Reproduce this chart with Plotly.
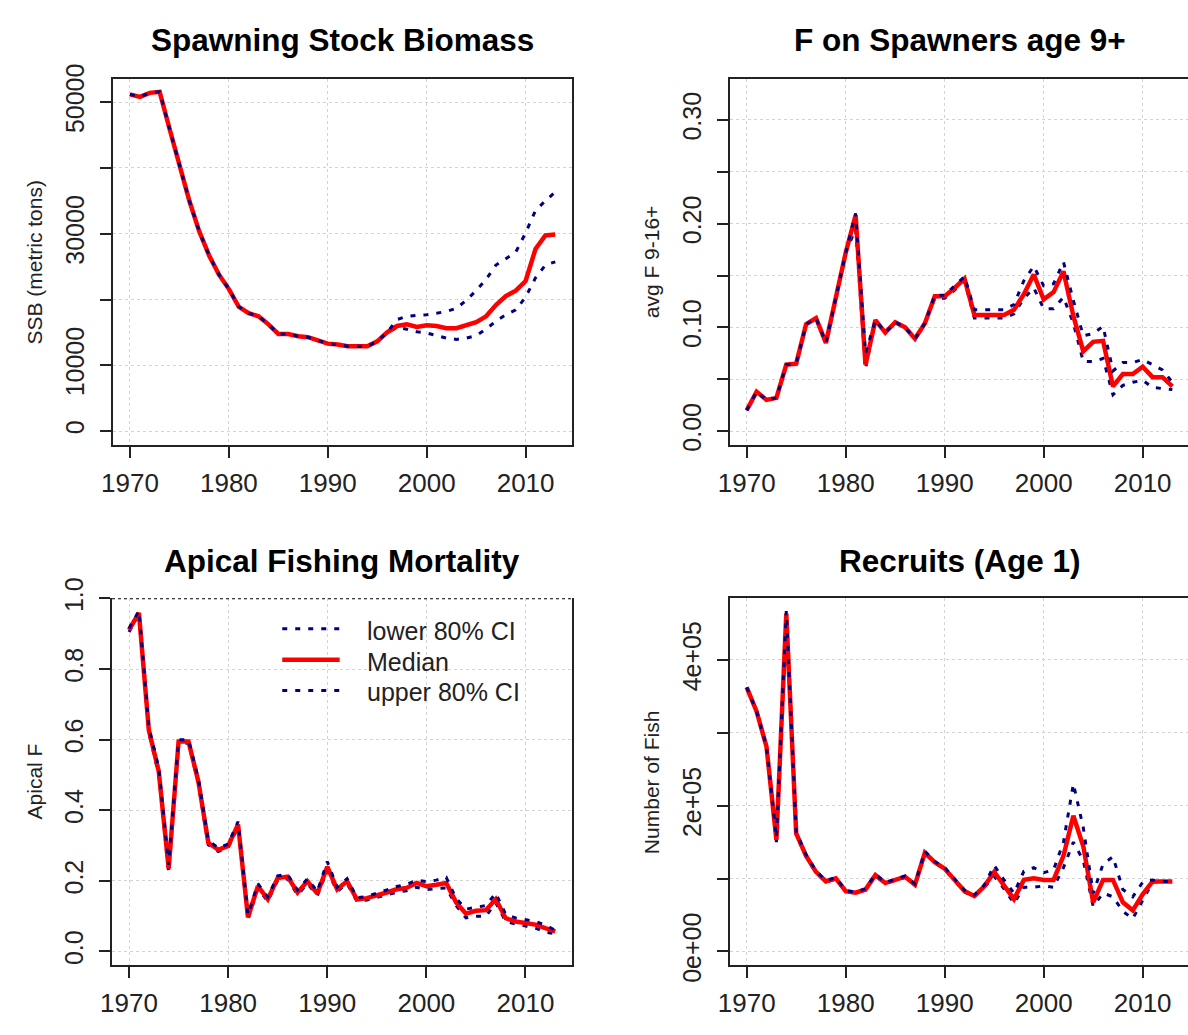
import plotly.graph_objects as go

# ---- data -------------------------------------------------------------
years = list(range(1970, 2014))

ssb_median = [51170, 50800, 51400, 51560, 45950, 40350, 35000, 30360, 26700, 23780,
              21590, 18900, 17930, 17450, 16230, 14770, 14770, 14420, 14280, 13790,
              13300, 13160, 12910, 12910, 12910, 13650, 15010, 15980, 16230, 15840,
              16080, 15980, 15640, 15640, 16080, 16570, 17450, 19150, 20520, 21350,
              22810, 27680, 29730, 29870]
ssb_lower = [51170, 50800, 51400, 51560, 45950, 40350, 35000, 30360, 26700, 23780,
             21590, 18900, 17930, 17450, 16230, 14770, 14770, 14420, 14280, 13790,
             13300, 13160, 12910, 12910, 12910, 13650, 15010, 15740, 15500, 15100,
             14910, 14520, 14130, 13940, 14130, 14520, 15500, 16720, 17690, 18420,
             20370, 23290, 25240, 25730]
ssb_upper = [51170, 50800, 51400, 51560, 45950, 40350, 35000, 30360, 26700, 23780,
             21590, 18900, 17930, 17450, 16230, 14770, 14770, 14420, 14280, 13790,
             13300, 13160, 12910, 12910, 12910, 13650, 15010, 16960, 17450, 17600,
             17690, 17930, 18180, 18660, 19880, 21350, 23050, 25240, 26220, 27190,
             30120, 33530, 34990, 36350]

fsp_median = [0.020, 0.038, 0.030, 0.032, 0.064, 0.065, 0.103, 0.109, 0.085, 0.129,
              0.172, 0.208, 0.064, 0.107, 0.095, 0.105, 0.100, 0.089, 0.104, 0.130,
              0.130, 0.138, 0.147, 0.112, 0.112, 0.112, 0.112, 0.117, 0.132, 0.151,
              0.127, 0.134, 0.154, 0.111, 0.077, 0.086, 0.087, 0.043, 0.055, 0.055,
              0.062, 0.052, 0.052, 0.043]
fsp_lower = [0.020, 0.038, 0.030, 0.032, 0.064, 0.065, 0.103, 0.109, 0.085, 0.129,
             0.172, 0.195, 0.060, 0.107, 0.095, 0.105, 0.100, 0.089, 0.104, 0.128,
             0.128, 0.136, 0.145, 0.109, 0.109, 0.109, 0.109, 0.113, 0.128, 0.138,
             0.118, 0.118, 0.129, 0.104, 0.067, 0.067, 0.070, 0.035, 0.044, 0.047,
             0.049, 0.042, 0.041, 0.040]
fsp_upper = [0.020, 0.038, 0.030, 0.032, 0.064, 0.065, 0.103, 0.109, 0.085, 0.129,
             0.172, 0.210, 0.075, 0.107, 0.095, 0.105, 0.100, 0.089, 0.104, 0.131,
             0.131, 0.140, 0.149, 0.117, 0.117, 0.117, 0.117, 0.122, 0.145, 0.159,
             0.140, 0.142, 0.163, 0.126, 0.092, 0.094, 0.101, 0.058, 0.066, 0.066,
             0.069, 0.064, 0.059, 0.047]

apf_median = [0.911, 0.959, 0.627, 0.510, 0.235, 0.595, 0.595, 0.481, 0.308, 0.288,
              0.299, 0.360, 0.097, 0.185, 0.148, 0.208, 0.212, 0.167, 0.199, 0.164,
              0.240, 0.176, 0.199, 0.147, 0.151, 0.158, 0.167, 0.176, 0.180, 0.194,
              0.185, 0.189, 0.194, 0.139, 0.107, 0.115, 0.117, 0.148, 0.094, 0.085,
              0.080, 0.076, 0.066, 0.057]
apf_lower = [0.905, 0.955, 0.620, 0.500, 0.225, 0.590, 0.590, 0.475, 0.302, 0.283,
             0.294, 0.352, 0.090, 0.178, 0.142, 0.202, 0.206, 0.160, 0.192, 0.158,
             0.230, 0.170, 0.192, 0.142, 0.146, 0.152, 0.160, 0.168, 0.172, 0.182,
             0.175, 0.178, 0.180, 0.130, 0.095, 0.100, 0.100, 0.138, 0.085, 0.078,
             0.072, 0.066, 0.055, 0.050]
apf_upper = [0.915, 0.965, 0.635, 0.520, 0.245, 0.600, 0.600, 0.488, 0.314, 0.293,
             0.304, 0.368, 0.104, 0.192, 0.154, 0.214, 0.218, 0.174, 0.206, 0.170,
             0.255, 0.182, 0.206, 0.152, 0.156, 0.164, 0.174, 0.184, 0.190, 0.202,
             0.198, 0.202, 0.210, 0.150, 0.120, 0.125, 0.130, 0.165, 0.105, 0.095,
             0.090, 0.085, 0.075, 0.060]

rec_median = [362400, 329400, 280900, 153200, 463700, 162000, 131200, 109200, 96000, 100400,
              82800, 80600, 85000, 104800, 93800, 98200, 102600, 91600, 135600, 122400,
              113600, 98200, 82800, 76200, 89400, 109200, 91600, 71800, 98200, 100400,
              98200, 98200, 131200, 186300, 144400, 67400, 98200, 98200, 67400, 56400,
              78400, 96000, 96000, 96000]
rec_lower = [362400, 329400, 280900, 150000, 460000, 160000, 130000, 108000, 95000, 99500,
             82000, 80000, 84000, 103500, 93000, 97500, 101500, 90500, 134000, 121500,
             112500, 97000, 81500, 75000, 88000, 103000, 86000, 66000, 88000, 88000,
             90000, 88000, 115000, 150000, 125000, 62000, 80000, 75000, 55000, 45000,
             70000, 95000, 96000, 96000]
rec_upper = [362400, 329400, 280900, 156000, 467000, 164000, 132500, 110500, 97000, 101500,
             83500, 81500, 86000, 106000, 94500, 99000, 103500, 92500, 137500, 123500,
             115000, 99500, 84000, 77500, 91000, 118000, 98000, 80000, 110000, 115000,
             108000, 112000, 150000, 230000, 170000, 80000, 120000, 130000, 85000, 75000,
             95000, 98000, 96000, 96000]

titles = ["Spawning Stock Biomass", "F on Spawners age 9+",
          "Apical Fishing Mortality", "Recruits (Age 1)"]
ytitles = ["SSB (metric tons)", "avg F 9-16+", "Apical F", "Number of Fish"]

year_ticks = [1970, 1980, 1990, 2000, 2010]

ssb_tickvals = [0, 10000, 20000, 30000, 40000, 50000]
ssb_ticktext = ["0", "10000", "", "30000", "", "50000"]
fsp_tickvals = [0.00, 0.05, 0.10, 0.15, 0.20, 0.25, 0.30]
fsp_ticktext = ["0.00", "", "0.10", "", "0.20", "", "0.30"]
apf_tickvals = [0.0, 0.2, 0.4, 0.6, 0.8, 1.0]
apf_ticktext = ["0.0", "0.2", "0.4", "0.6", "0.8", "1.0"]
rec_tickvals = [0, 100000, 200000, 300000, 400000]
rec_ticktext = ["0e+00", "", "2e+05", "", "4e+05"]

legend_names = ["lower 80% CI", "Median", "upper 80% CI"]

# ---- page geometry (pixels) -------------------------------------------
W, H = 1188, 1035


def px(x):
    return x / W


def py(y):
    return 1 - y / H


NAVY = "#000080"
RED = "#ff0000"
INK = "#222222"
FONT = "Liberation Sans, Arial, sans-serif"
CI_DASH = "5px,8px"

styles = [
    (NAVY, CI_DASH, 3),     # lower 80% CI
    (RED, "solid", 4.5),    # median
    (NAVY, CI_DASH, 3),     # upper 80% CI
]

fig = go.Figure()

panels = [
    (ssb_lower, ssb_median, ssb_upper),
    (fsp_lower, fsp_median, fsp_upper),
    (apf_lower, apf_median, apf_upper),
    (rec_lower, rec_median, rec_upper),
]

for i, series in enumerate(panels):
    suffix = "" if i == 0 else str(i + 1)
    for name, vals, (color, dash, width) in zip(legend_names, series, styles):
        fig.add_trace(go.Scatter(
            x=years, y=vals, mode="lines", name=name,
            line=dict(color=color, dash=dash, width=width),
            xaxis="x" + suffix, yaxis="y" + suffix,
            showlegend=False, hoverinfo="skip",
        ))

# plot-box placement (left, right, top, bottom) in pixels
boxes = [
    (102, 566, 60, 440),
    (725, 1188, 60, 440),
    (101, 566, 599.3, 980),
    (725, 1188, 599.3, 980),
]
yranges = [
    [-2080, 53540],
    [-0.0133, 0.3397],
    [-0.03848, 1.00048],
    [-18640, 484640],
]
xranges = [
    [1968.28, 2014.72],
    [1968.28, 2014.58],
    [1968.28, 2014.72],
    [1968.28, 2014.58],
]
yticks = [
    (ssb_tickvals, ssb_ticktext),
    (fsp_tickvals, fsp_ticktext),
    (apf_tickvals, apf_ticktext),
    (rec_tickvals, rec_ticktext),
]

layout = dict(
    width=W, height=H,
    margin=dict(l=0, r=0, t=0, b=0),
    paper_bgcolor="white", plot_bgcolor="white",
    font=dict(family=FONT, color=INK),
    showlegend=False,
)

annotations = []
shapes = []

for i, (l, r, t, b) in enumerate(boxes):
    suffix = "" if i == 0 else str(i + 1)
    right_col = i in (1, 3)
    top_closed = i != 2
    layout["xaxis" + suffix] = dict(
        domain=[px(l), px(r)], range=xranges[i],
        anchor="y" + suffix,
        tickvals=year_ticks, ticks="outside", ticklen=11, tickwidth=1.5,
        tickcolor=INK, showline=True, linecolor=INK, linewidth=1.5,
        mirror=top_closed, showgrid=True, gridcolor="#d3d3d3",
        griddash="3px,3px", gridwidth=1, zeroline=False,
        tickfont=dict(size=26, color=INK, family=FONT),
        ticklabelstandoff=3,
    )
    layout["yaxis" + suffix] = dict(
        domain=[py(b), py(t)], range=yranges[i],
        anchor="x" + suffix,
        tickvals=yticks[i][0], ticktext=yticks[i][1],
        ticks="outside", ticklen=11, tickwidth=1.5, tickcolor=INK,
        showline=True, linecolor=INK, linewidth=1.5,
        mirror=not right_col, showgrid=True, gridcolor="#d3d3d3",
        griddash="3px,3px", gridwidth=1, zeroline=False,
        tickangle=-90, tickfont=dict(size=25, color=INK, family=FONT),
        ticklabelstandoff=6,
    )

    cx = (l + r) / 2 if not right_col else 958
    ty = 20 if i < 2 else 561
    annotations.append(dict(
        text="<b>" + titles[i] + "</b>", x=px(cx), y=py(ty),
        xref="paper", yref="paper", xanchor="center", yanchor="middle",
        showarrow=False, font=dict(size=31.5, color="black", family=FONT),
    ))
    yx = 23 if not right_col else 646
    annotations.append(dict(
        text=ytitles[i], x=px(yx), y=py((t + b) / 2),
        xref="paper", yref="paper", xanchor="center", yanchor="middle",
        textangle=-90, showarrow=False,
        font=dict(size=21, color=INK, family=FONT),
    ))

# dotted reference line at F = 1 on the apical F panel
shapes.append(dict(
    type="line", xref="x3 domain", yref="y3", x0=0, x1=1, y0=1.0, y1=1.0,
    line=dict(color="black", width=1.5, dash="3px,3px"),
))

# legend box in the apical F panel: key line + label per series
legend_rows = [631, 663, 695]
for name, row, (color, dash, width) in zip(legend_names, legend_rows, styles):
    shapes.append(dict(
        type="line", xref="paper", yref="paper",
        x0=px(273), x1=px(331), y0=py(row), y1=py(row),
        line=dict(color=color, width=width, dash=dash),
    ))
    annotations.append(dict(
        text=name, x=px(357), y=py(row + 2),
        xref="paper", yref="paper", xanchor="left", yanchor="middle",
        showarrow=False, font=dict(size=25, color=INK, family=FONT),
    ))

layout["annotations"] = annotations
layout["shapes"] = shapes
fig.update_layout(**layout)

fig.write_html("out.html")
